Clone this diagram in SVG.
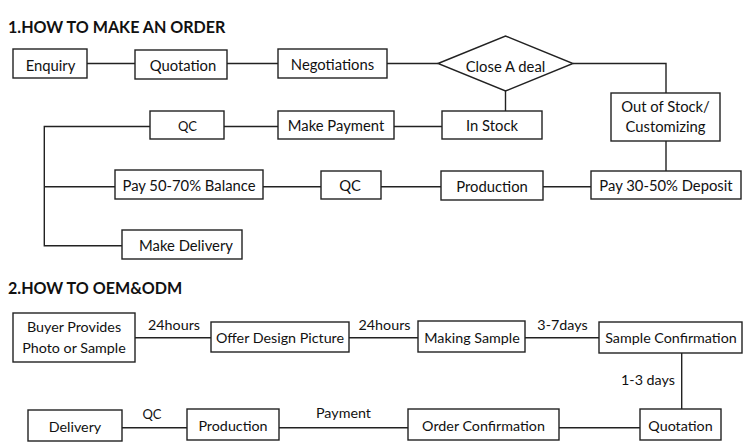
<svg xmlns="http://www.w3.org/2000/svg" width="750" height="447" viewBox="0 0 750 447">
<style>
.b{fill:#fff;stroke:#222;stroke-width:1.4}
.c{fill:none;stroke:#222;stroke-width:1.4}
text{font-family:Lato,"Liberation Sans",sans-serif;font-size:14.8px;fill:#111;text-anchor:middle}
.t{font-weight:bold;font-size:16.1px;text-anchor:start}
.s{font-size:13px}
.m{font-size:14.3px}
</style>
<rect width="750" height="447" fill="#fff"/>
<text class="t" x="8" y="33">1.HOW TO MAKE AN ORDER</text>
<text class="t" x="8" y="294">2.HOW TO OEM&amp;ODM</text>
<g id="connectors">
<path class="c" d="M87 63.5H135M227 63.5H278M387 63.5H438M573 63.5H666V93M505.5 91V111M666 141V171M394 126.5H442M224 126.5H278M150 126.5H44.3V245.7H122M44.3 186.7H115M263 186.7H321M381 186.7H441M543 186.7H591"/>
<path class="c" d="M135 337.7H211M349 337.7H418M525 337.7H599M681.7 353V409M559 427.7H640M279 427.7H408M122 427.7H187"/>
</g>
<g id="enquiry"><rect class="b" x="13" y="49" width="74" height="29"/><text x="50.5" y="70.5">Enquiry</text></g>
<g id="quotation1"><rect class="b" x="135" y="50" width="92" height="29"/><text x="183" y="71">Quotation</text></g>
<g id="negotiations"><rect class="b" x="278" y="49" width="109" height="29"/><text x="332.5" y="70">Negotiations</text></g>
<g id="close-deal"><polygon class="b" points="438,63.5 505.5,36 573,63.5 505.5,91"/><text x="505.5" y="71.5">Close A deal</text></g>
<g id="out-of-stock"><rect class="b" x="611" y="93" width="109" height="48"/><text x="665.5" y="112">Out of Stock/</text><text x="665.5" y="132">Customizing</text></g>
<g id="in-stock"><rect class="b" x="442" y="111" width="100" height="28"/><text x="492" y="131">In Stock</text></g>
<g id="make-payment"><rect class="b" x="278" y="111" width="116" height="28"/><text x="336" y="131">Make Payment</text></g>
<g id="qc1"><rect class="b" x="150" y="111" width="74" height="28"/><text class="s" x="187.5" y="130.5">QC</text></g>
<g id="pay-balance"><rect class="b" x="115" y="170" width="148" height="29"/><text x="189" y="191">Pay 50-70% Balance</text></g>
<g id="qc2"><rect class="b" x="321" y="171" width="60" height="28"/><text x="350" y="191">QC</text></g>
<g id="production1"><rect class="b" x="441" y="171" width="102" height="29"/><text x="492" y="191.5">Production</text></g>
<g id="pay-deposit"><rect class="b" x="591" y="171" width="150" height="28"/><text x="666" y="191">Pay 30-50% Deposit</text></g>
<g id="make-delivery"><rect class="b" x="122" y="230" width="120" height="29"/><text x="186" y="251">Make Delivery</text></g>
<g id="buyer" class="m"><rect class="b" x="13" y="313" width="122" height="49"/><text class="m" x="74" y="332">Buyer Provides</text><text class="m" x="74" y="353">Photo or Sample</text></g>
<g id="offer-design"><rect class="b" x="211" y="322" width="138" height="30"/><text class="m" x="280" y="343">Offer Design Picture</text></g>
<g id="making-sample"><rect class="b" x="418" y="321" width="107" height="31"/><text class="m" x="472" y="343">Making Sample</text></g>
<g id="sample-confirmation"><rect class="b" x="599" y="322" width="143" height="31"/><text class="m" x="671" y="343">Sample Confirmation</text></g>
<g id="quotation2"><rect class="b" x="640" y="409" width="81" height="31"/><text class="m" x="680.5" y="431">Quotation</text></g>
<g id="order-confirmation"><rect class="b" x="408" y="409" width="151" height="31"/><text class="m" x="483.5" y="431">Order Confirmation</text></g>
<g id="production2"><rect class="b" x="187" y="409" width="92" height="31"/><text class="m" x="233" y="431">Production</text></g>
<g id="delivery"><rect class="b" x="28" y="410" width="94" height="31"/><text class="m" x="75" y="431.5">Delivery</text></g>
<g id="labels">
<text class="m" x="174" y="330">24hours</text>
<text class="m" x="384.5" y="330">24hours</text>
<text class="m" x="562.5" y="330">3-7days</text>
<text class="m" x="648" y="385">1-3 days</text>
<text class="m" x="343.5" y="417.5">Payment</text>
<text class="s" x="152" y="419">QC</text>
</g>
</svg>
